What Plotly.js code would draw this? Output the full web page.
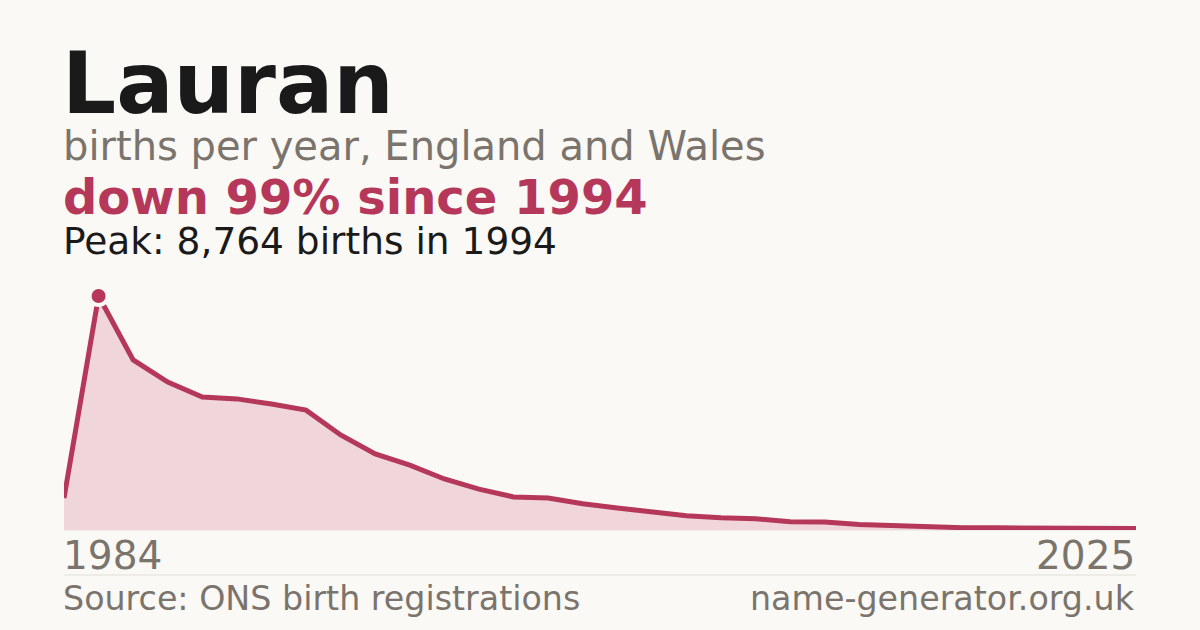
<!DOCTYPE html>
<html>
<head>
<meta charset="utf-8">
<script src="https://cdn.plot.ly/plotly-3.0.1.min.js"></script>
<style>
  html, body { margin: 0; padding: 0; background: #faf9f5; }
  #chart { width: 1200px; height: 630px; }
</style>
</head>
<body>
<div id="chart"></div>
<script>
// Data (estimates)
const years = [1984, 1994, 1996, 1997, 1998, 1999, 2000, 2001, 2002, 2003, 2004,
  2005, 2006, 2007, 2008, 2009, 2010, 2011, 2012, 2013, 2014, 2015, 2016, 2017,
  2018, 2019, 2020, 2021, 2022, 2023, 2024, 2025];
const births = [1200, 8764, 6370, 5540, 4980, 4910, 4720, 4490, 3560, 2850, 2430,
  1910, 1530, 1240, 1200, 985, 825, 675, 535, 455, 420, 305, 300, 205,
  155, 100, 85, 80, 65, 65, 60, 60];

const name = "Lauran";
const subtitle = "births per year, England and Wales";
const sourceText = "Source: ONS birth registrations";
const siteText = "name-generator.org.uk";

// Derived
const cats = years.map(String);
const peakVal = Math.max(...births);
const peakIdx = births.indexOf(peakVal);
const peakYear = years[peakIdx];
const lastVal = births[births.length - 1];
const pctDown = Math.round((1 - lastVal / peakVal) * 100);
const headline = "down " + pctDown + "% since " + peakYear;
const peakText = "Peak: " + peakVal.toLocaleString("en-GB") + " births in " + peakYear;

const BG = "#faf9f5";
const RED = "#b5385a";
const GREY = "#7a746d";
const FONT = "DejaVu Sans, sans-serif";

// layout geometry
const W = 1200, H = 630;
const M = {l: 64, r: 64, t: 280, b: 100};
const PW = W - M.l - M.r;
const PH = H - M.t - M.b; // plot height
const py = (pix) => (H - M.b - pix) / PH; // pixel y -> paper y
const px = (pix) => (pix - M.l) / PW;     // pixel x -> paper x

const traces = [
  {
    x: cats, y: births, type: "scatter", mode: "lines",
    line: {color: RED, width: 5},
    fill: "tozeroy", fillcolor: "#f0d5db",
    hoverinfo: "skip", showlegend: false
  },
  {
    x: [cats[peakIdx]], y: [peakVal], type: "scatter", mode: "markers",
    marker: {color: RED, size: 18, line: {color: BG, width: 4}},
    hoverinfo: "skip", showlegend: false, cliponaxis: false
  }
];

const ann = (text, x, y, size, color, bold, xanchor) => ({
  text: bold ? "<b>" + text + "</b>" : text,
  xref: "paper", yref: "paper", x: x, y: y,
  xanchor: xanchor || "left", yanchor: "middle",
  showarrow: false, borderpad: 0,
  font: {family: FONT, size: size, color: color}
});

const layout = {
  width: W, height: H,
  margin: M,
  paper_bgcolor: BG, plot_bgcolor: BG,
  showlegend: false,
  xaxis: {
    type: "category", range: [0, cats.length - 1],
    showgrid: false, zeroline: false, showticklabels: false, showline: false, ticks: ""
  },
  yaxis: {
    range: [0, peakVal * 250 / 234],
    showgrid: false, zeroline: false, showticklabels: false, showline: false, ticks: ""
  },
  shapes: [
    {type: "line", xref: "paper", yref: "paper", x0: 0, x1: 1, y0: 0, y1: 0,
     line: {color: "#e2dfd8", width: 1}, layer: "below"},
    {type: "line", xref: "paper", yref: "paper", x0: 0, x1: 1, y0: py(575), y1: py(575),
     line: {color: "#e2dfd8", width: 1}}
  ],
  annotations: [
    ann(name, px(61), py(83.6), 85, "#1a1a1a", true),
    ann(subtitle, px(62), py(146), 40, GREY, false),
    ann(headline, px(62), py(197.4), 48, RED, true),
    ann(peakText, px(62), py(241.2), 37.5, "#1a1a1a", false),
    ann(String(years[0]), px(62), py(555.9), 39, GREY, false, "left"),
    ann(String(years[years.length - 1]), 1, py(555.9), 39, GREY, false, "right"),
    ann(sourceText, px(62), py(598.6), 33.3, GREY, false, "left"),
    ann(siteText, 1, py(598.6), 33.3, GREY, false, "right")
  ]
};

Plotly.newPlot("chart", traces, layout, {displayModeBar: false, staticPlot: true});
</script>
</body>
</html>
